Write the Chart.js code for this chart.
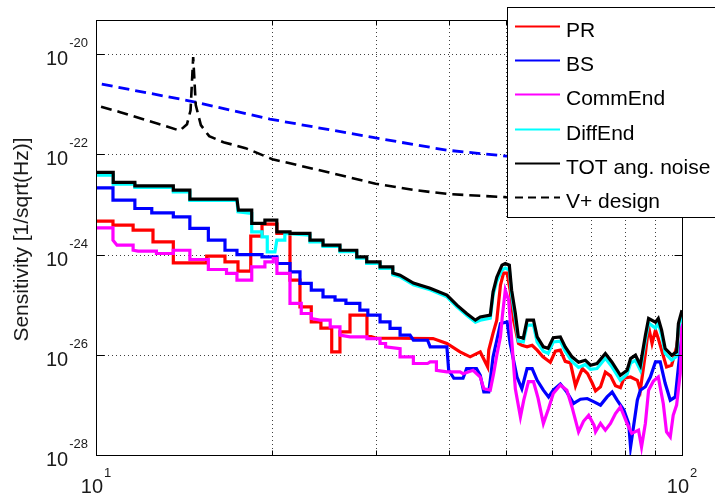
<!DOCTYPE html>
<html><head><meta charset="utf-8">
<script src="https://cdn.jsdelivr.net/npm/chart.js@4.4.1/dist/chart.umd.min.js"></script>
<style>html,body{margin:0;padding:0;background:#fff}canvas{display:block}</style>
</head><body>
<canvas id="c" width="715" height="495" style="width:715px;height:495px"></canvas>
<script>
// ---- labels / ticks ----
const seriesLabels = ['PR', 'BS', 'CommEnd', 'DiffEnd', 'TOT ang. noise', 'V+ design'];
const yTickValues = [1e-28, 1e-26, 1e-24, 1e-22, 1e-20];
const yTickExponents = ['-28', '-26', '-24', '-22', '-20'];
const xMajorValues = [10, 100];
const xMajorExponents = ['1', '2'];
const xMinorValues = [20, 30, 40, 50, 60, 70, 80, 90];
const yAxisTitle = 'Sensitivity [1/sqrt(Hz)]';

// ---- PR ----
const prFreq = [10, 10.69, 10.69, 11.57, 11.57, 12.51, 12.51, 13.55, 13.55, 15.45, 15.45, 16.6, 16.6, 17.47, 17.47, 18.37, 18.37, 19.2, 19.2, 20.36, 20.36, 21.43, 21.43, 22.29, 22.29, 23.3, 23.3, 24.2, 24.2, 25.25, 25.25, 26.08, 26.08, 27.13, 27.13, 29.0, 29.0, 30.1, 33.03, 37.6, 39.7, 41.8, 43.5, 45.26, 46.6, 46.8, 47.6, 48.3, 49.0, 49.6, 50.3, 50.9, 51.6, 52.6, 53.3, 54.4, 55.5, 56.6, 57.9, 59.6, 60.8, 62.0, 63.2, 64.5, 65.8, 66.6, 67.6, 69.0, 70.3, 71.2, 72.6, 74.0, 75.5, 77.0, 78.5, 79.6, 81.7, 83.9, 84.9, 86.6, 87.7, 88.9, 90.1, 91.1, 92.3, 94.1, 96.0, 97.9, 99.3, 100];
const prVal = [4.64e-24, 4.64e-24, 3.86e-24, 3.86e-24, 3.07e-24, 3.07e-24, 1.79e-24, 1.79e-24, 6.82e-25, 6.82e-25, 9.3e-25, 9.3e-25, 7.14e-25, 7.14e-25, 4.66e-25, 4.66e-25, 2.33e-24, 2.33e-24, 4.05e-24, 4.05e-24, 2.64e-24, 2.64e-24, 3.08e-25, 3.08e-25, 9.0e-26, 9.0e-26, 4.54e-26, 4.54e-26, 3.4e-26, 3.4e-26, 1.14e-26, 1.14e-26, 2.86e-26, 2.86e-26, 6.17e-26, 6.17e-26, 2.46e-26, 2.14e-26, 2.14e-26, 2.11e-26, 1.68e-26, 1.14e-26, 9.1e-27, 1.14e-26, 5.7e-27, 1.24e-26, 2.7e-26, 4.91e-26, 2.45e-25, 4.26e-25, 4.26e-25, 1.95e-25, 4.91e-26, 1.68e-26, 1.55e-26, 1.44e-26, 1.55e-26, 1.24e-26, 9.1e-27, 7.1e-27, 1.18e-26, 1.24e-26, 7.4e-27, 6.9e-27, 2.4e-27, 3.5e-27, 5.3e-27, 4.2e-27, 2.7e-27, 1.9e-27, 2.3e-27, 4.5e-27, 3.8e-27, 2.4e-27, 2.2e-27, 3.4e-27, 3.6e-27, 3.1e-27, 1.97e-27, 1.06e-26, 3.61e-26, 1.68e-26, 3.1e-26, 2.11e-26, 1.24e-26, 5.7e-27, 6.2e-27, 1.44e-26, 4.91e-26, 6.17e-26];

// ---- BS ----
const bsFreq = [10, 10.69, 10.69, 11.65, 11.65, 12.45, 12.45, 13.55, 13.55, 14.46, 14.46, 15.55, 15.55, 16.6, 16.6, 17.4, 17.4, 19.2, 19.2, 20.36, 20.36, 21.43, 21.43, 22.29, 22.29, 23.3, 23.3, 24.4, 24.4, 25.58, 25.58, 26.7, 26.7, 28.2, 28.2, 29.1, 29.1, 30.53, 30.53, 31.75, 31.75, 33.03, 33.03, 34.35, 34.8, 36.8, 37.17, 39.7, 39.98, 40.8, 42.3, 42.9, 44.6, 45.26, 45.9, 46.8, 47.08, 47.6, 48.3, 49.0, 50.3, 50.9, 52.3, 53.3, 54.4, 55.5, 56.6, 58.0, 59.2, 60.3, 62.0, 63.6, 65.3, 67.1, 68.9, 70.8, 72.6, 74.5, 76.0, 77.5, 79.6, 81.1, 81.7, 82.8, 83.9, 84.9, 86.6, 88.3, 90.1, 91.8, 93.6, 95.5, 97.4, 98.6, 100];
const bsVal = [2.14e-23, 2.14e-23, 1.22e-23, 1.22e-23, 8.3e-24, 8.3e-24, 6.8e-24, 6.8e-24, 5.65e-24, 5.65e-24, 3.32e-24, 3.32e-24, 1.94e-24, 1.94e-24, 1.22e-24, 1.22e-24, 1.0e-24, 1.0e-24, 9.0e-25, 9.0e-25, 6.64e-25, 6.64e-25, 4.52e-25, 4.52e-25, 2.65e-25, 2.65e-25, 1.95e-25, 1.95e-25, 1.43e-25, 1.43e-25, 1.23e-25, 1.23e-25, 1.06e-25, 1.06e-25, 7.76e-26, 7.76e-26, 6.17e-26, 6.17e-26, 4.54e-26, 4.54e-26, 3.35e-26, 3.35e-26, 2.46e-26, 2.46e-26, 1.95e-26, 1.95e-26, 1.44e-26, 1.44e-26, 4.9e-27, 3.4e-27, 3.4e-27, 5.3e-27, 5.3e-27, 3.9e-27, 1.82e-27, 1.82e-27, 3.1e-27, 9.1e-27, 1.95e-26, 4.22e-26, 4.54e-26, 1.68e-26, 3.6e-27, 2.1e-27, 5.3e-27, 5.3e-27, 3.1e-27, 1.97e-27, 1.44e-27, 1.97e-27, 2.6e-27, 1.8e-27, 1.07e-27, 1.3e-27, 1.34e-27, 1.15e-27, 9.9e-28, 1.44e-27, 1.8e-27, 1.24e-27, 7.8e-28, 4.25e-28, 1.45e-28, 4.25e-28, 1.24e-27, 1.97e-27, 2.3e-27, 3.6e-27, 7.2e-27, 7.2e-27, 2.7e-27, 1.24e-27, 1.44e-27, 5.7e-27, 2.46e-26];

// ---- CommEnd ----
const commFreq = [10, 10.69, 10.69, 10.86, 11.57, 11.57, 11.8, 12.68, 12.68, 13.55, 13.55, 14.46, 14.46, 15.55, 15.55, 16.7, 16.7, 17.4, 17.4, 18.44, 18.44, 19.42, 19.42, 20.07, 20.07, 20.36, 20.36, 21.43, 21.43, 22.4, 22.4, 23.3, 23.3, 24.1, 25.1, 25.1, 26.08, 26.08, 27.13, 29.0, 29.0, 30.53, 30.53, 31.2, 31.2, 33.03, 33.03, 34.8, 34.8, 36.8, 37.17, 38.1, 38.1, 39.7, 41.8, 42.3, 44.0, 45.26, 45.9, 47.08, 47.7, 48.3, 49.0, 49.35, 49.94, 50.6, 51.3, 51.95, 53.0, 53.7, 54.7, 55.8, 56.8, 58.0, 59.2, 60.3, 62.0, 63.6, 64.9, 66.6, 67.9, 69.3, 70.8, 71.2, 72.6, 74.0, 75.5, 77.0, 78.5, 80.6, 82.1, 84.3, 85.3, 86.6, 87.7, 89.4, 91.1, 92.9, 94.1, 95.5, 96.6, 97.9, 99.3, 100];
const commVal = [3.41e-24, 3.41e-24, 1.94e-24, 1.54e-24, 1.54e-24, 1.22e-24, 1.17e-24, 1.17e-24, 1.05e-24, 1.05e-24, 1.22e-24, 1.22e-24, 7.97e-25, 7.97e-25, 5.04e-25, 5.04e-25, 4.2e-25, 4.2e-25, 3.08e-25, 3.08e-25, 5.67e-25, 5.67e-25, 7.14e-25, 7.14e-25, 8.35e-25, 8.35e-25, 4.2e-25, 4.2e-25, 1.06e-25, 1.06e-25, 6.67e-26, 6.67e-26, 5.3e-26, 4.91e-26, 4.91e-26, 3.61e-26, 3.61e-26, 2.46e-26, 2.28e-26, 2.28e-26, 2.11e-26, 2.11e-26, 1.68e-26, 1.68e-26, 1.44e-26, 1.33e-26, 9.1e-27, 9.1e-27, 6.7e-27, 6.7e-27, 7.2e-27, 7.2e-27, 4.9e-27, 4.55e-27, 4.55e-27, 4.2e-27, 4.9e-27, 3.6e-27, 2.1e-27, 1.97e-27, 4.2e-27, 9.8e-27, 2.28e-26, 5.7e-26, 1.95e-25, 1.23e-25, 1.55e-26, 2.1e-27, 5.75e-28, 1.24e-27, 2.9e-27, 2.9e-27, 1.36e-27, 4.25e-28, 8.5e-28, 1.69e-27, 2.5e-27, 1.97e-27, 9.1e-28, 2.9e-28, 4.7e-28, 6.2e-28, 3.9e-28, 2.9e-28, 4.25e-28, 3.13e-28, 4.25e-28, 6.7e-28, 9.1e-28, 4.25e-28, 2.69e-28, 3.13e-28, 1.45e-28, 4.3e-28, 1.97e-27, 3.0e-27, 3.6e-27, 1.07e-27, 2.9e-28, 2.3e-28, 6.2e-28, 9.9e-28, 4.2e-27, 4.22e-26];

// ---- DiffEnd ----
const diffFreq = [10, 10.7, 10.7, 11.65, 11.65, 13.55, 13.55, 14.46, 14.46, 17.4, 17.47, 18.44, 18.44, 19.2, 19.2, 19.6, 19.6, 20.2, 20.35, 21.0, 21.0, 23.18, 23.18, 24.4, 24.4, 26.08, 26.08, 27.86, 27.86, 28.97, 28.97, 30.53, 30.53, 32.1, 32.1, 33.03, 34.8, 37.17, 39.7, 41.3, 42.9, 44.4, 45.26, 47.08, 47.6, 48.3, 49.3, 49.94, 50.74, 51.2, 51.95, 52.56, 53.6, 54.4, 55.8, 56.6, 58.0, 59.1, 60.3, 62.0, 63.2, 64.9, 66.6, 68.4, 69.8, 71.6, 74.0, 75.9, 78.5, 80.6, 81.7, 83.3, 84.9, 86.6, 87.7, 90.1, 91.1, 92.3, 93.6, 96.0, 97.9, 98.6, 100];
const diffVal = [3.85e-23, 3.85e-23, 2.54e-23, 2.54e-23, 2.18e-23, 2.18e-23, 1.78e-23, 1.78e-23, 1.2e-23, 1.2e-23, 7.1e-24, 6.6e-24, 2.84e-24, 2.84e-24, 2.25e-24, 2.25e-24, 1.13e-24, 1.13e-24, 1.94e-24, 1.94e-24, 2.64e-24, 2.45e-24, 1.8e-24, 1.8e-24, 1.45e-24, 1.45e-24, 1.14e-24, 1.14e-24, 8.5e-25, 8.5e-25, 6.7e-25, 6.7e-25, 5.3e-25, 5.3e-25, 3.95e-25, 3.6e-25, 2.5e-25, 1.98e-25, 1.44e-25, 9.1e-26, 6.17e-26, 4.48e-26, 4.91e-26, 5.4e-26, 1.55e-25, 2.95e-25, 4.9e-25, 5.4e-25, 4.9e-25, 1.6e-25, 5.3e-26, 1.87e-26, 1.8e-26, 3.9e-26, 3.9e-26, 1.8e-26, 1.18e-26, 1.07e-26, 1.8e-26, 1.87e-26, 1.18e-26, 7.4e-27, 5.6e-27, 6.4e-27, 5.1e-27, 5.3e-27, 8.5e-27, 5.8e-27, 3.1e-27, 4.1e-27, 6.8e-27, 7.8e-27, 4.9e-27, 1.95e-26, 4.28e-26, 3.4e-26, 4.28e-26, 2.46e-26, 1.07e-26, 7.8e-27, 9.3e-27, 3.4e-26, 6.17e-26];

// ---- TOT ang. noise ----
const totFreq = [10, 10.7, 10.7, 11.65, 11.65, 13.55, 13.55, 14.46, 14.46, 17.4, 17.5, 18.44, 18.44, 19.42, 19.42, 20.35, 20.35, 21.43, 21.43, 23.18, 23.18, 24.4, 24.4, 26.08, 26.08, 27.86, 27.86, 28.97, 28.97, 30.53, 30.53, 32.1, 32.1, 33.03, 34.8, 37.17, 39.7, 41.3, 42.9, 44.4, 45.26, 47.08, 47.6, 48.3, 49.3, 49.94, 50.74, 51.2, 51.95, 52.56, 53.6, 54.4, 55.8, 56.6, 58.0, 59.1, 60.3, 62.0, 63.2, 64.9, 66.6, 68.4, 69.8, 71.6, 74.0, 75.9, 78.5, 80.6, 81.7, 83.3, 84.9, 86.6, 87.7, 90.1, 91.1, 92.3, 93.6, 96.0, 97.9, 98.6, 100];
const totVal = [4.35e-23, 4.35e-23, 2.75e-23, 2.75e-23, 2.35e-23, 2.35e-23, 1.93e-23, 1.93e-23, 1.28e-23, 1.28e-23, 7.7e-24, 7.7e-24, 4.18e-24, 4.18e-24, 4.86e-24, 4.86e-24, 2.84e-24, 2.84e-24, 2.64e-24, 2.64e-24, 1.94e-24, 1.94e-24, 1.54e-24, 1.54e-24, 1.22e-24, 1.22e-24, 9.0e-25, 9.0e-25, 7.14e-25, 7.14e-25, 5.67e-25, 5.67e-25, 4.26e-25, 3.88e-25, 2.69e-25, 2.13e-25, 1.55e-25, 9.8e-26, 6.67e-26, 4.91e-26, 5.7e-26, 6.17e-26, 1.8e-25, 3.54e-25, 6.14e-25, 6.64e-25, 6.14e-25, 1.95e-25, 6.76e-26, 2.28e-26, 2.14e-26, 4.91e-26, 4.91e-26, 2.28e-26, 1.44e-26, 1.35e-26, 2.2e-26, 2.28e-26, 1.44e-26, 9.1e-27, 7.1e-27, 7.8e-27, 6.2e-27, 6.7e-27, 1.06e-26, 7.2e-27, 3.9e-27, 4.9e-27, 8.4e-27, 9.8e-27, 6.2e-27, 2.46e-26, 5.3e-26, 4.48e-26, 5.3e-26, 3.1e-26, 1.33e-26, 9.8e-27, 1.14e-26, 4.22e-26, 7.76e-26];

// ---- V+ design (dashed black) ----
const vplusFreq = [10.2, 11, 12, 13, 13.9, 14.3, 14.5, 14.65, 14.8, 15.1, 15.6, 16.5, 18, 20, 25, 30, 35, 40, 50, 60, 80, 100];
const vplusVal = [8.95e-22, 6.95e-22, 5.05e-22, 3.83e-22, 2.97e-22, 4.0e-22, 7.6e-22, 8.7e-21, 9.6e-22, 3.83e-22, 2.31e-22, 1.75e-22, 1.33e-22, 8.0e-23, 4.35e-23, 2.6e-23, 1.93e-23, 1.61e-23, 1.4e-23, 1.34e-23, 1.3e-23, 1.3e-23];

// ---- unlabeled dashed blue curve ----
const blueDashFreq = [10.23, 14.7, 19.8, 29.7, 39.7, 50.2, 70, 100];
const blueDashVal = [2.52e-21, 1.12e-21, 5.05e-22, 2.17e-22, 1.21e-22, 9.2e-23, 6.5e-23, 4.5e-23];

function pts(f, v) {
  const n = Math.min(f.length, v.length), out = [];
  for (let i = 0; i < n; i++) out.push({ x: f[i], y: v[i] });
  return out;
}

function ds(label, f, v, color, width, dash, order) {
  return { label, data: pts(f, v), borderColor: color, backgroundColor: color, borderWidth: width,
    borderDash: dash || [], showLine: true, pointRadius: 0, fill: false, tension: 0, order,
    borderJoinStyle: 'miter' };
}

const datasets = [
  ds(seriesLabels[0], prFreq, prVal, '#ff0000', 3.2, null, 5),
  ds(seriesLabels[1], bsFreq, bsVal, '#0000ff', 3.2, null, 4),
  ds(seriesLabels[2], commFreq, commVal, '#ff00ff', 3.2, null, 3),
  ds(seriesLabels[3], diffFreq, diffVal, '#00ffff', 3.2, null, 2),
  ds(seriesLabels[4], totFreq, totVal, '#000000', 3.2, null, 1),
  ds(seriesLabels[5], vplusFreq, vplusVal, '#000000', 2.6, [11, 6], 0),
  ds('', blueDashFreq, blueDashVal, '#0000ff', 2.8, [11, 6], 0)
];

const FONT = '"Liberation Sans", Arial, Helvetica, sans-serif';

const matlabAxes = {
  id: 'matlabAxes',
  beforeDraw(chart) {
    const ctx = chart.ctx;
    ctx.save(); ctx.fillStyle = '#fff'; ctx.fillRect(0, 0, chart.width, chart.height); ctx.restore();
  },
  beforeDatasetsDraw(chart) {
    const { ctx, chartArea: a, scales: { x, y } } = chart;
    ctx.save();
    ctx.strokeStyle = '#404040'; ctx.lineWidth = 1; ctx.setLineDash([1, 3]);
    yTickValues.forEach(v => {
      const py = Math.round(y.getPixelForValue(v)) + 0.5;
      if (py > a.bottom - 2 || py < a.top + 2) return;
      ctx.beginPath(); ctx.moveTo(a.left, py); ctx.lineTo(a.right, py); ctx.stroke();
    });
    xMinorValues.forEach(v => {
      const px = Math.round(x.getPixelForValue(v)) + 0.5;
      ctx.beginPath(); ctx.moveTo(px, a.top); ctx.lineTo(px, a.bottom); ctx.stroke();
    });
    ctx.restore();
  },
  afterDatasetsDraw(chart) {
    const { ctx, chartArea: a, scales: { x, y } } = chart;
    ctx.save();
    ctx.setLineDash([]);
    ctx.strokeStyle = '#000'; ctx.lineWidth = 1;
    const L = Math.round(a.left) + 0.5, R = Math.round(a.right) + 0.5, T = Math.round(a.top) + 0.5, B = Math.round(a.bottom) + 0.5;
    ctx.strokeRect(L, T, R - L, B - T);
    yTickValues.forEach(v => {
      const py = Math.round(y.getPixelForValue(v)) + 0.5;
      ctx.beginPath(); ctx.moveTo(L, py); ctx.lineTo(L + 8, py); ctx.moveTo(R, py); ctx.lineTo(R - 8, py); ctx.stroke();
    });
    xMinorValues.forEach(v => {
      const px = Math.round(x.getPixelForValue(v)) + 0.5;
      ctx.beginPath(); ctx.moveTo(px, B); ctx.lineTo(px, B - 5); ctx.moveTo(px, T); ctx.lineTo(px, T + 5); ctx.stroke();
    });
    ctx.fillStyle = '#1a1a1a';
    ctx.textBaseline = 'alphabetic';
    yTickValues.forEach((v, i) => {
      const py = y.getPixelForValue(v);
      ctx.font = '13px ' + FONT; ctx.textAlign = 'right';
      const sup = yTickExponents[i];
      const sw = ctx.measureText(sup).width;
      ctx.fillText(sup, 88, py - 7);
      ctx.font = '20px ' + FONT;
      ctx.fillText('10', 88 - sw - 1, py + 11);
    });
    xMajorValues.forEach((v, i) => {
      const px = x.getPixelForValue(v);
      ctx.font = '20px ' + FONT; const bw = ctx.measureText('10').width;
      ctx.font = '13px ' + FONT; const sw = ctx.measureText(xMajorExponents[i]).width;
      const start = px - (bw + 1 + sw) / 2;
      ctx.textAlign = 'left';
      ctx.font = '20px ' + FONT; ctx.fillText('10', start, 493);
      ctx.font = '13px ' + FONT; ctx.fillText(xMajorExponents[i], start + bw + 1, 477);
    });
    ctx.save();
    ctx.translate(28, (a.top + a.bottom) / 2 + 2);
    ctx.rotate(-Math.PI / 2);
    ctx.textAlign = 'center'; ctx.font = '21px ' + FONT;
    ctx.fillText(yAxisTitle, 0, 0);
    ctx.restore();
    ctx.restore();
  },
  afterDraw(chart) {
    const ctx = chart.ctx;
    const lx = 507, ly = 7, lw = 215, lh = 210;
    ctx.save();
    ctx.fillStyle = '#fff'; ctx.fillRect(lx, ly, lw, lh);
    ctx.strokeStyle = '#000'; ctx.lineWidth = 1; ctx.setLineDash([]);
    ctx.strokeRect(lx + 0.5, ly + 0.5, lw, lh);
    ctx.font = '21px ' + FONT; ctx.textAlign = 'left'; ctx.textBaseline = 'alphabetic';
    chart.data.datasets.filter(d => d.label).forEach((d, i) => {
      const yy = Math.round(26 + i * 34.2) + 0.5;
      ctx.strokeStyle = d.borderColor; ctx.lineWidth = 2;
      ctx.setLineDash(d.borderDash && d.borderDash.length ? [8, 5] : []);
      ctx.beginPath(); ctx.moveTo(515, yy); ctx.lineTo(560, yy); ctx.stroke();
      ctx.fillStyle = '#000';
      ctx.fillText(d.label, 566, yy + 10);
    });
    ctx.restore();
  }
};

new Chart(document.getElementById('c'), {
  type: 'scatter',
  data: { datasets },
  options: {
    responsive: false, animation: false, devicePixelRatio: 1,
    layout: { padding: { left: 96, right: 33, top: 20, bottom: 40 } },
    scales: {
      x: { type: 'logarithmic', min: 10, max: 100, display: false },
      y: { type: 'logarithmic', min: 1e-28, max: 4.8e-20, display: false }
    },
    plugins: { legend: { display: false }, tooltip: { enabled: false }, title: { display: false } },
    elements: { point: { radius: 0 }, line: { tension: 0 } }
  },
  plugins: [matlabAxes]
});
</script>
</body></html>
